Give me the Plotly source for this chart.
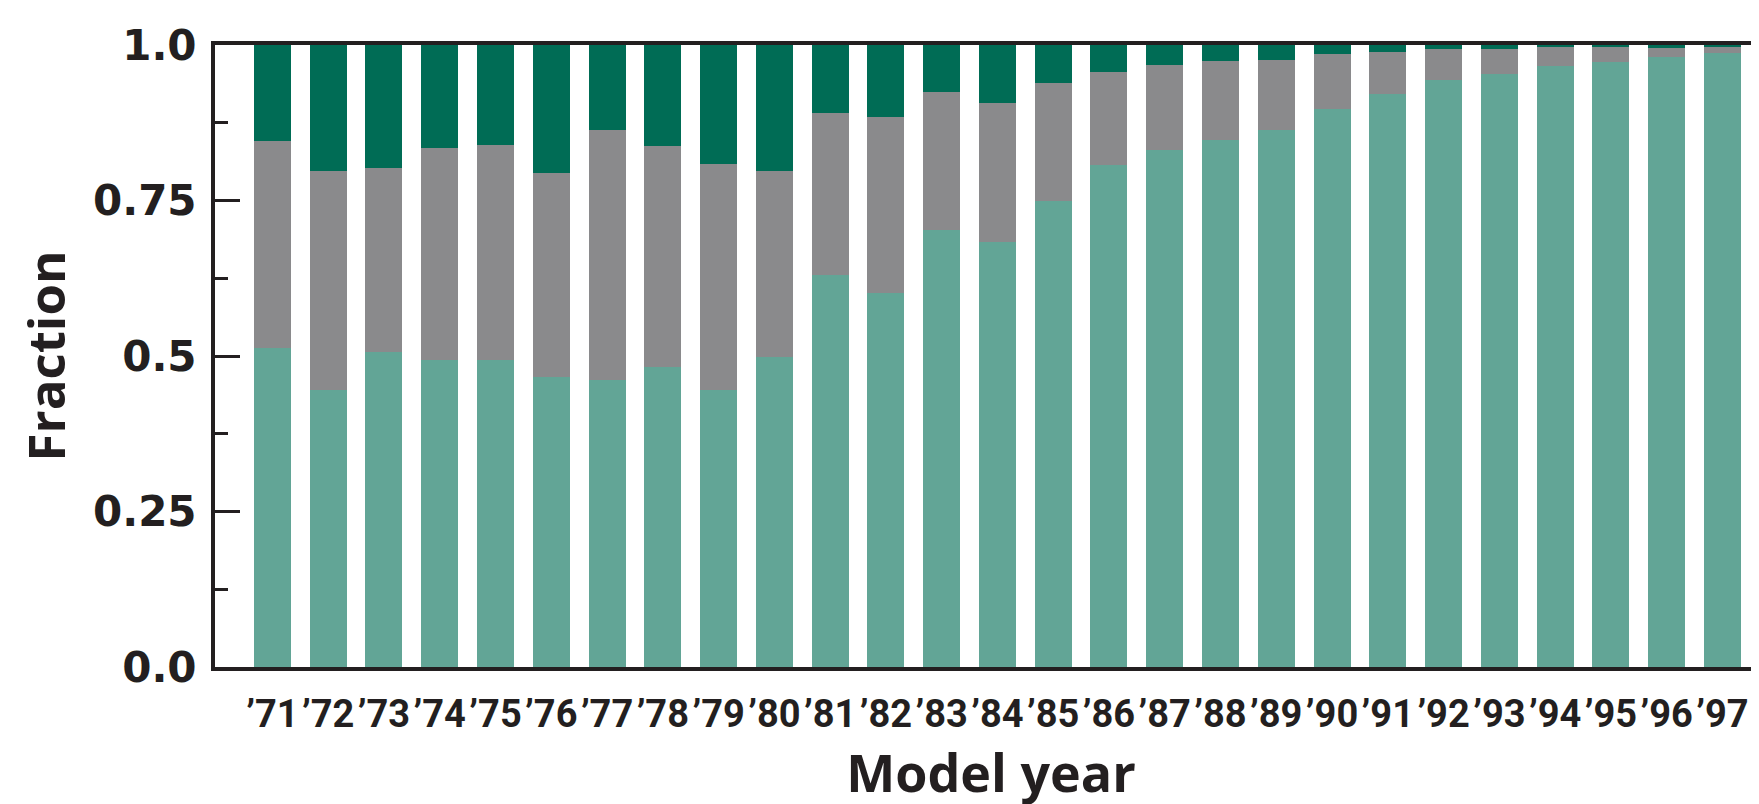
import plotly.graph_objects as go

years = ["\u201971", "\u201972", "\u201973", "\u201974", "\u201975", "\u201976", "\u201977", "\u201978", "\u201979",
         "\u201980", "\u201981", "\u201982", "\u201983", "\u201984", "\u201985", "\u201986", "\u201987", "\u201988",
         "\u201989", "\u201990", "\u201991", "\u201992", "\u201993", "\u201994", "\u201995", "\u201996", "\u201997"]

# cumulative boundaries
teal_top = [0.513, 0.445, 0.507, 0.493, 0.493, 0.467, 0.462, 0.483, 0.445, 0.499,
            0.631, 0.602, 0.703, 0.683, 0.749, 0.807, 0.832, 0.848, 0.864, 0.897,
            0.921, 0.944, 0.954, 0.966, 0.973, 0.981, 0.987]
gray_top = [0.845, 0.797, 0.803, 0.834, 0.840, 0.795, 0.864, 0.837, 0.808, 0.797,
            0.890, 0.885, 0.925, 0.906, 0.939, 0.957, 0.968, 0.974, 0.976, 0.986,
            0.988, 0.994, 0.993, 0.998, 0.996, 0.995, 0.998]

teal = teal_top
gray = [g - t for g, t in zip(gray_top, teal_top)]
dark = [1 - g for g in gray_top]

y_tickvals = [0, 0.25, 0.5, 0.75, 1.0]
y_ticktext = ["0.0", "0.25", "0.5", "0.75", "1.0"]

C_TEAL = "#62A596"
C_GRAY = "#8A8A8C"
C_DARK = "#006C55"
AXC = "#231F20"

fig = go.Figure()
for vals, col in [(teal, C_TEAL), (gray, C_GRAY), (dark, C_DARK)]:
    fig.add_trace(go.Bar(x=list(range(len(years))), y=vals, marker=dict(color=col, line=dict(width=0)),
                         showlegend=False, hoverinfo="skip"))

fig.update_layout(
    barmode="stack",
    bargap=0.337,
    width=1759, height=804,
    margin=dict(l=207, r=0, t=37, b=145, autoexpand=False),
    plot_bgcolor="white", paper_bgcolor="white",
    xaxis=dict(
        range=[-1.03, 26.8],
        tickmode="array", tickvals=list(range(len(years))), ticktext=years,
        showline=True, linewidth=4, linecolor=AXC, mirror=True,
        showgrid=False, zeroline=False, ticks="",
        tickfont=dict(family="Liberation Sans Narrow, Arial Narrow, Roboto, sans-serif", size=38,
                      color=AXC, weight="bold"),
        ticklabelstandoff=10,
        title=dict(text="Model year", standoff=7,
                   font=dict(family="Open Sans, sans-serif", size=52, color=AXC, weight="bold")),
        automargin=False,
    ),
    yaxis=dict(
        range=[0, 1],
        tickmode="array", tickvals=y_tickvals, ticktext=y_ticktext,
        showline=True, linewidth=4, linecolor=AXC, mirror=False,
        showgrid=False, zeroline=False,
        ticks="inside", ticklen=25, tickwidth=3, tickcolor=AXC,
        minor=dict(tickvals=[0.125, 0.375, 0.625, 0.875], ticks="inside", ticklen=13, tickwidth=3, tickcolor=AXC),
        tickfont=dict(family="DejaVu Sans, sans-serif", size=42, color=AXC, weight="bold"),
        ticklabelstandoff=6,
        title=dict(text="Fraction", standoff=12,
                   font=dict(family="Open Sans, sans-serif", size=51, color=AXC, weight="bold")),
        automargin=False,
    ),
)

fig.write_html("out.html")
